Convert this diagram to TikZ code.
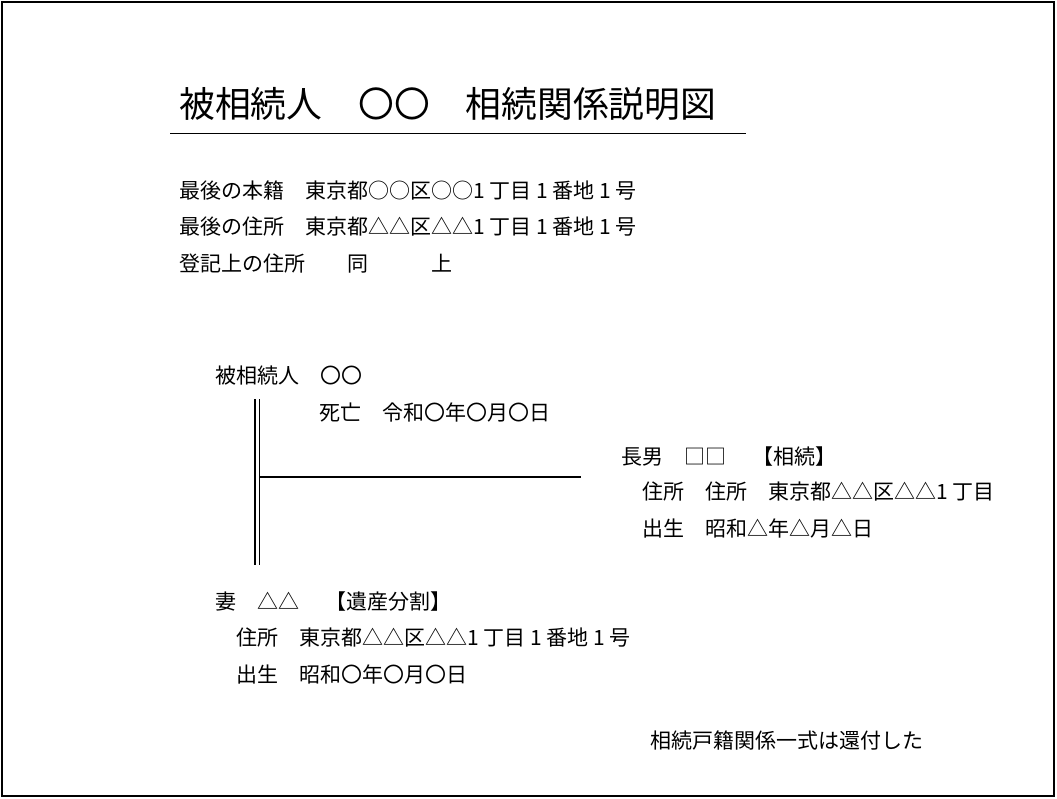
\documentclass[tikz,border=0pt]{standalone}
\usepackage{fontspec}
\setmainfont{Noto Sans CJK JP}
\newfontfamily\jpfont{Noto Sans CJK JP}
\begin{document}
\begin{tikzpicture}[x=1pt,y=-1pt,
  txt/.style={anchor=west,inner sep=0pt,font=\jpfont\fontsize{21}{24}\selectfont},
  ttl/.style={anchor=west,inner sep=0pt,font=\jpfont\fontsize{35.8}{40}\selectfont},
  rel/.style={line width=1.3pt,line cap=butt}]
\useasboundingbox (0,0) rectangle (1057,799);
\draw[line width=2pt] (2,2) rectangle (1054,796);
% title
\node[ttl] (title) at (179,104) {被相続人　〇〇　相続関係説明図};
\coordinate (ul1) at (170,134);
\coordinate (ul2) at (746,134);
\draw[line width=1pt] (ul1) -- (ul2);
% header lines
\node[txt] (honseki) at (179,191) {最後の本籍　東京都○○区○○1 丁目 1 番地 1 号};
\node[txt] (jusho) at (179,227) {最後の住所　東京都△△区△△1 丁目 1 番地 1 号};
\node[txt] (toki) at (179,264) {登記上の住所　　同　　　上};
% decedent
\node[txt] (hi) at (215,376) {被相続人　〇〇};
\node[txt] (shibo) at (319,412) {死亡　令和〇年〇月〇日};
% son
\node[txt] (son) at (621,457) {長男　□□　\hspace{5pt}【相続】};
\node[txt] (sonaddr) at (642,492) {住所　住所　東京都△△区△△1 丁目};
\node[txt] (sonbirth) at (642,528) {出生　昭和△年△月△日};
% wife
\node[txt] (wife) at (215,602) {妻　△△　\hspace{5pt}【遺産分割】};
\node[txt] (wifeaddr) at (236,638) {住所　東京都△△区△△1 丁目 1 番地 1 号};
\node[txt] (wifebirth) at (236,674) {出生　昭和〇年〇月〇日};
% note
\node[txt] (note) at (650,741) {相続戸籍関係一式は還付した};
% marriage double line and child line
\coordinate (m1t) at (255,399);
\coordinate (m1b) at (255,565);
\coordinate (m2t) at (259.5,399);
\coordinate (m2b) at (259.5,565);
\coordinate (cs) at (259.5,477);
\coordinate (ce) at (581,477);
\draw[rel] (m1t) -- (m1b);
\draw[rel] (m2t) -- (m2b);
\draw[rel] (cs) -- (ce);
\end{tikzpicture}
\end{document}
